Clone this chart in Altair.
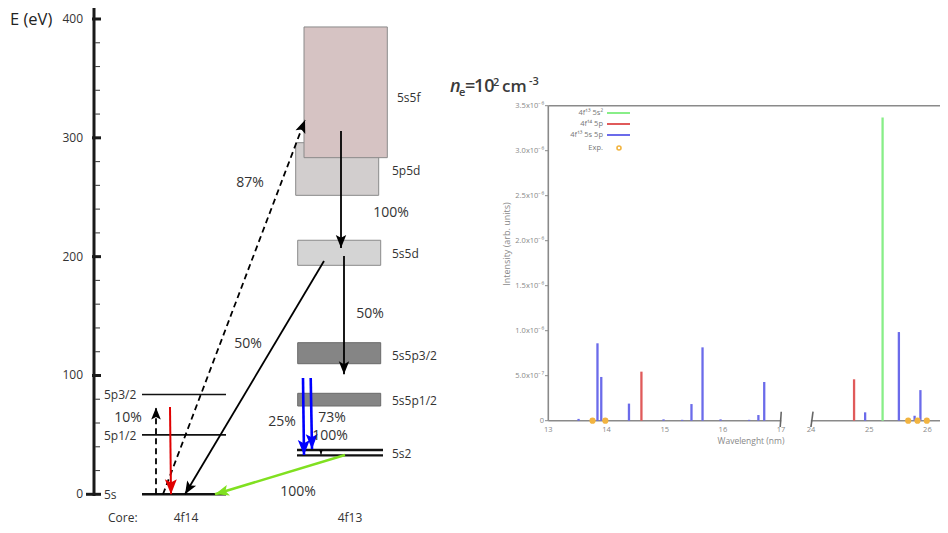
import math
import altair as alt
import pandas as pd

# ====================== DATA ======================
# Energy axis (eV)
E_MAJOR = [0, 100, 200, 300, 400]
E_MINOR = [20, 40, 60, 80, 120, 140, 160, 180, 220, 240, 260, 280, 320, 340, 360, 380]

# 4f14 core levels
LEV14_NAMES = ["5s", "5p1/2", "5p3/2"]
LEV14_E = [0.0, 50.0, 84.0]

# 4f13 core configuration bands (eV)
BAND_NAMES = ["5p5d", "5s5f", "5s5d", "5s5p3/2", "5s5p1/2"]
BAND_LO = [251.6, 283.3, 192.7, 109.9, 74.3]
BAND_HI = [295.9, 393.3, 213.8, 127.6, 85.0]
BAND_LABEL_E = [272.0, 333.5, 202.3, 116.4, 78.5]
S2_E = [32.8, 37.3]

# transitions: start eV, end eV
ARROW_E1 = [0.0, 305.7, 200.5, 196.3, 0.0, 73.5, 97.9, 97.9, 37.3, 33.1]
ARROW_E2 = [315.0, 207.3, 101.0, 0.0, 73.0, 0.0, 33.1, 38.1, 33.4, 0.0]

PCT_TEXT = ["87%", "100%", "50%", "50%", "10%", "25%", "73%", "100%", "100%"]
PCT_E = [262.1, 236.7, 151.7, 126.5, 64.0, 60.5, 63.9, 49.1, 1.9]

# spectrum (wavelength nm, intensity arb. units)
BLUE_WL = [13.52, 13.845, 13.91, 14.386, 14.98, 15.3, 15.46, 15.65, 15.96, 16.45,
           16.61, 16.71, 24.93, 25.51, 25.78, 25.88]
BLUE_I = [0.02e-6, 0.86e-6, 0.486e-6, 0.19e-6, 0.015e-6, 0.01e-6, 0.185e-6, 0.815e-6,
          0.015e-6, 0.01e-6, 0.063e-6, 0.43e-6, 0.093e-6, 0.985e-6, 0.055e-6, 0.34e-6]
RED_WL = [14.6, 24.74]
RED_I = [0.545e-6, 0.46e-6]
GREEN_WL = [25.23]
GREEN_I = [3.37e-6]
EXP_WL = [13.76, 13.98, 25.67, 25.83, 25.99]

INT_TICKS = [0, 0.5e-6, 1.0e-6, 1.5e-6, 2.0e-6, 2.5e-6, 3.0e-6, 3.5e-6]
INT_LABELS = ["0", "5.0x10⁻⁷", "1.0x10⁻⁶", "1.5x10⁻⁶", "2.0x10⁻⁶", "2.5x10⁻⁶",
              "3.0x10⁻⁶", "3.5x10⁻⁶"]
WL_TICKS = [13, 14, 15, 16, 17, 24, 25, 26]

LEGEND_LABELS = ["4f¹³ 5s²", "4f¹⁴ 5p", "4f¹³ 5s 5p", "Exp."]

# ====================== LAYOUT ======================
FONT = "Open Sans"
EV_RANGE = [486.3, 11.0]
XPX = alt.Scale(domain=[8, 948], range=[0, 940], zero=False, nice=False)
YEV = alt.Scale(domain=[0, 400], range=EV_RANGE, zero=False, nice=False)
XWL = alt.Scale(domain=[13, 17, 24, 27], range=[540.3, 773.1, 803.0, 977.6], zero=False, nice=False)
YINT = alt.Scale(domain=[0, 3.5e-6], range=[412.7, 97.7], zero=False, nice=False)

LEV14_X = (142, 226)
BAND_X = [(295.7, 378.7), (304, 387.3), (297.7, 380.7), (297.7, 380.7), (297.7, 380.7)]
BAND_FILL = ["#d2cece", "#d6c3c3", "#d4d4d4", "#858585", "#858585"]
BAND_STROKE = ["#8a8a8a", "#8a8a8a", "#8a8a8a", "#6a6a6a", "#6a6a6a"]
S2_X = (297, 383)

ARROW_X1 = [163, 341, 344, 324, 156, 170, 303, 310.7, 321, 345]
ARROW_X2 = [305, 341, 344, 185, 156, 171, 304, 312, 321, 215]
ARROW_COLOR = ["black", "black", "black", "black", "black", "#e00000", "#0000ff", "#0000ff", "black", "#80e020"]
ARROW_W = [1.8, 1.8, 1.8, 1.8, 1.8, 2.0, 2.6, 2.6, 1.0, 2.5]
ARROW_DASH = [True, False, False, False, True, False, False, False, False, False]
ARROW_HEAD = [13, 13, 13, 13, 12, 15, 15, 15, 5, 14]
PCT_X = [250, 391, 370, 248, 128, 282, 332, 330, 298]

HEAD_PATH = "M0,0L0.4,1L0,0.78L-0.4,1Z"


def ev_px(e):
    return EV_RANGE[0] + (EV_RANGE[1] - EV_RANGE[0]) * e / 400.0


# ====================== LEFT DIAGRAM ======================
def X(f, **k):
    return alt.X(f, scale=XPX, axis=None, **k)


def Y(f, **k):
    return alt.Y(f, scale=YEV, axis=None, **k)


left_layers = []

# energy axis
axis_df = pd.DataFrame({"x": [94], "e1": [-1.5], "e2": [411.8]})
left_layers.append(alt.Chart(axis_df).mark_rule(color="#1a1a1a", strokeWidth=3).encode(
    x=X("x:Q"), y=Y("e1:Q"), y2="e2:Q"))
maj_df = pd.DataFrame({"e": E_MAJOR, "x1": [86 if v == 0 else 92 for v in E_MAJOR], "x2": 101})
left_layers.append(alt.Chart(maj_df).mark_rule(color="#1a1a1a", strokeWidth=3).encode(
    x=X("x1:Q"), x2="x2:Q", y=Y("e:Q")))
min_df = pd.DataFrame({"e": E_MINOR, "x1": 95, "x2": 100})
left_layers.append(alt.Chart(min_df).mark_rule(color="#444", strokeWidth=1.1).encode(
    x=X("x1:Q"), x2="x2:Q", y=Y("e:Q")))
lab_df = pd.DataFrame({"e": E_MAJOR, "t": [str(v) for v in E_MAJOR], "x": 83})
left_layers.append(alt.Chart(lab_df).mark_text(align="right", baseline="middle", font=FONT,
                                               fontSize=12, color="#333").encode(
    x=X("x:Q"), y=Y("e:Q"), text="t:N"))
left_layers.append(alt.Chart(pd.DataFrame({"t": ["E (eV)"], "x": [10], "e": [399.3]})).mark_text(
    align="left", baseline="middle", font=FONT, fontSize=16.5, color="#222").encode(
    x=X("x:Q"), y=Y("e:Q"), text="t:N"))

# 4f14 levels
lev_df = pd.DataFrame({"name": LEV14_NAMES, "e": LEV14_E, "x1": LEV14_X[0], "x2": LEV14_X[1],
                       "w": [2.6, 1.6, 1.6], "lx": 104})
left_layers.append(alt.Chart(lev_df).mark_rule(color="#111").encode(
    x=X("x1:Q"), x2="x2:Q", y=Y("e:Q"), strokeWidth=alt.StrokeWidth("w:Q", scale=None)))
left_layers.append(alt.Chart(lev_df).mark_text(align="left", baseline="middle", font=FONT,
                                               fontSize=12, color="#333", dy=1).encode(
    x=X("lx:Q"), y=Y("e:Q"), text="name:N"))

# 4f13 bands
band_df = pd.DataFrame({"name": BAND_NAMES, "lo": BAND_LO, "hi": BAND_HI,
                        "x1": [b[0] for b in BAND_X], "x2": [b[1] for b in BAND_X],
                        "fill": BAND_FILL, "stroke": BAND_STROKE, "le": BAND_LABEL_E,
                        "lx": [392, 397, 392, 392, 392], "ord": [0, 1, 2, 3, 4]})
left_layers.append(alt.Chart(band_df).mark_rect(strokeWidth=1).encode(
    x=X("x1:Q"), x2="x2:Q", y=Y("lo:Q"), y2="hi:Q",
    fill=alt.Fill("fill:N", scale=None), stroke=alt.Stroke("stroke:N", scale=None),
    order=alt.Order("ord:Q")))
left_layers.append(alt.Chart(band_df).mark_text(align="left", baseline="middle", font=FONT,
                                                fontSize=12, color="#333").encode(
    x=X("lx:Q"), y=Y("le:Q"), text="name:N"))
s2_df = pd.DataFrame({"e": S2_E, "x1": S2_X[0], "x2": S2_X[1]})
left_layers.append(alt.Chart(s2_df).mark_rule(color="#111", strokeWidth=2.4).encode(
    x=X("x1:Q"), x2="x2:Q", y=Y("e:Q")))
left_layers.append(alt.Chart(pd.DataFrame({"t": ["5s2"], "x": [392], "e": [33.9]})).mark_text(
    align="left", baseline="middle", font=FONT, fontSize=12, color="#333").encode(
    x=X("x:Q"), y=Y("e:Q"), text="t:N"))

# arrows
angs = []
for x1, e1, x2, e2 in zip(ARROW_X1, ARROW_E1, ARROW_X2, ARROW_E2):
    dx = x2 - x1
    dy = ev_px(e2) - ev_px(e1)
    a = math.degrees(math.atan2(dx, -dy)) % 360
    angs.append(a)
arr_df = pd.DataFrame({"x1": ARROW_X1, "e1": ARROW_E1, "x2": ARROW_X2, "e2": ARROW_E2,
                       "c": ARROW_COLOR, "w": ARROW_W, "dash": ARROW_DASH,
                       "hs": [(2 * h) ** 2 for h in ARROW_HEAD], "ang": angs})
for dashed in (True, False):
    sub = arr_df[arr_df["dash"] == dashed]
    mk = dict(strokeDash=[6, 4]) if dashed else {}
    left_layers.append(alt.Chart(sub).mark_rule(**mk).encode(
        x=X("x1:Q"), x2="x2:Q", y=Y("e1:Q"), y2="e2:Q",
        color=alt.Color("c:N", scale=None), strokeWidth=alt.StrokeWidth("w:Q", scale=None)))
left_layers.append(alt.Chart(arr_df).mark_point(shape=HEAD_PATH, filled=True, opacity=1,
                                                strokeWidth=0).encode(
    x=X("x2:Q"), y=Y("e2:Q"), color=alt.Color("c:N", scale=None),
    size=alt.Size("hs:Q", scale=None), angle=alt.Angle("ang:Q", scale=None)))

pct_df = pd.DataFrame({"t": PCT_TEXT, "x": PCT_X, "e": PCT_E})
left_layers.append(alt.Chart(pct_df).mark_text(align="center", baseline="middle", font=FONT,
                                               fontSize=14, color="#333").encode(
    x=X("x:Q"), y=Y("e:Q"), text="t:N"))

core_df = pd.DataFrame({"t": ["Core:", "4f14", "4f13"], "x": [108, 186, 350],
                        "a": ["left", "center", "center"], "e": -19.6})
for al in ("left", "center"):
    left_layers.append(alt.Chart(core_df[core_df["a"] == al]).mark_text(
        align=al, baseline="middle", font=FONT, fontSize=12, color="#333").encode(
        x=X("x:Q"), y=Y("e:Q"), text="t:N"))

left = alt.layer(*left_layers)

# ====================== RIGHT SPECTRUM ======================
def XW(f, **k):
    return alt.X(f, scale=XWL, axis=None, **k)


def YI(f, **k):
    return alt.Y(f, scale=YINT, axis=None, **k)


right_layers = []
GRAY = "#8a8a8a"
frame_v = pd.DataFrame({"x": [13], "i1": [0], "i2": [3.5e-6]})
right_layers.append(alt.Chart(frame_v).mark_rule(color=GRAY, strokeWidth=1.6).encode(
    x=XW("x:Q"), y=YI("i1:Q"), y2="i2:Q"))
frame_h = pd.DataFrame({"x1": [13, 13, 23.96], "x2": [27, 17.04, 27], "i": [3.5e-6, 0, 0]})
right_layers.append(alt.Chart(frame_h).mark_rule(color=GRAY, strokeWidth=1.6).encode(
    x=XW("x1:Q"), x2="x2:Q", y=YI("i:Q")))
# axis breaks
brk = pd.DataFrame({"x1": [16.985, 23.985], "x2": [17.035, 24.035],
                    "i1": [-0.07e-6, -0.07e-6], "i2": [0.1e-6, 0.1e-6]})
right_layers.append(alt.Chart(brk).mark_rule(color="#666", strokeWidth=1.6).encode(
    x=XW("x1:Q"), x2="x2:Q", y=YI("i1:Q"), y2="i2:Q"))

# y ticks
yt = pd.DataFrame({"i": INT_TICKS, "t": INT_LABELS})
right_layers.append(alt.Chart(yt).mark_rule(color=GRAY, strokeWidth=1).encode(
    x=alt.value(537.0), x2=alt.value(540.3), y=YI("i:Q")))
right_layers.append(alt.Chart(yt).mark_text(align="right", baseline="middle", font=FONT,
                                            fontSize=7.5, color="#888").encode(
    x=alt.value(536.0), y=YI("i:Q"), text="t:N"))
# x tick labels
xt = pd.DataFrame({"w": WL_TICKS, "t": [str(v) for v in WL_TICKS]})
right_layers.append(alt.Chart(xt).mark_text(align="center", baseline="middle", font=FONT,
                                            fontSize=7.5, color="#888").encode(
    x=XW("w:Q"), y=alt.value(422), text="t:N"))

# bars
bars = pd.concat([
    pd.DataFrame({"w": BLUE_WL, "i": BLUE_I, "c": "#6b6bea"}),
    pd.DataFrame({"w": RED_WL, "i": RED_I, "c": "#e05a5a"}),
    pd.DataFrame({"w": GREEN_WL, "i": GREEN_I, "c": "#88ee88"}),
], ignore_index=True)
bars["z"] = 0.0
right_layers.append(alt.Chart(bars).mark_rule(strokeWidth=2.3).encode(
    x=XW("w:Q"), y=YI("z:Q"), y2="i:Q", color=alt.Color("c:N", scale=None)))
exp_df = pd.DataFrame({"w": EXP_WL, "i": 0.0})
right_layers.append(alt.Chart(exp_df).mark_point(filled=True, size=38, color="#f2b440",
                                                 opacity=1).encode(
    x=XW("w:Q"), y=YI("i:Q")))

# axis titles
right_layers.append(alt.Chart(pd.DataFrame({"t": ["Intensity (arb. units)"]})).mark_text(
    angle=270, align="center", baseline="middle", font=FONT, fontSize=9, color="#888").encode(
    x=alt.value(499), y=alt.value(236), text="t:N"))
right_layers.append(alt.Chart(pd.DataFrame({"t": ["Wavelenght (nm)"]})).mark_text(
    align="center", baseline="middle", font=FONT, fontSize=8.5, color="#888").encode(
    x=alt.value(743), y=alt.value(433), text="t:N"))

# legend
LEG_Y = [105, 116, 127, 140]
LEG_COL = ["#88ee88", "#e05a5a", "#6b6bea"]
for lab, ly in zip(LEGEND_LABELS, LEG_Y):
    right_layers.append(alt.Chart(pd.DataFrame({"t": [lab]})).mark_text(
        align="right", baseline="middle", font=FONT, fontSize=7.5, color="#777").encode(
        x=alt.value(595), y=alt.value(ly), text="t:N"))
for col, ly in zip(LEG_COL, LEG_Y[:3]):
    right_layers.append(alt.Chart(pd.DataFrame({"t": [0]})).mark_rule(color=col, strokeWidth=2).encode(
        x=alt.value(599), x2=alt.value(622), y=alt.value(ly)))
right_layers.append(alt.Chart(pd.DataFrame({"t": [0]})).mark_point(
    color="#f2b440", size=16, strokeWidth=1.6, opacity=1).encode(
    x=alt.value(611), y=alt.value(LEG_Y[3])))

# title n_e = 10^2 cm^-3
TITLE_PARTS = [("n", 442, 84, 18, "italic"), ("e", 451, 88, 11, "normal"),
               ("=", 457, 84, 18, "normal"), ("10", 466, 84, 18, "normal"),
               ("2", 485, 78, 11, "normal"), ("cm", 494, 84, 17, "normal"),
               ("-3", 521, 77, 11, "normal")]
for t, px, py, fs, st in TITLE_PARTS:
    right_layers.append(alt.Chart(pd.DataFrame({"t": [t]})).mark_text(
        align="left", baseline="alphabetic", font=FONT, fontSize=fs, fontStyle=st,
        fontWeight=600, color="#3a3a3a").encode(x=alt.value(px), y=alt.value(py), text="t:N"))

right = alt.layer(*right_layers)

chart = alt.layer(left, right).resolve_scale(x="independent", y="independent").properties(
    width=932, height=517, padding=0, autosize=alt.AutoSizeParams(type="none")
).configure(background="white", view=alt.ViewConfig(stroke=None))

chart.save("out.html", embed_options={"renderer": "svg", "actions": False})
